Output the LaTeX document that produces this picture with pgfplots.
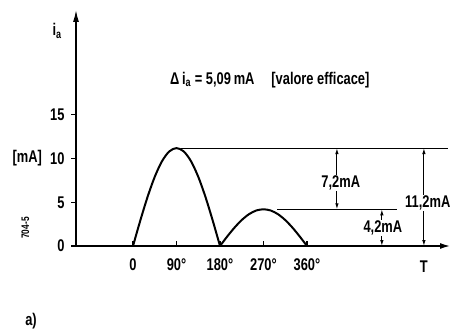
\documentclass[border=0pt]{standalone}
\usepackage{fontspec}
\setmainfont{Liberation Sans}[FakeStretch=0.76]
\usepackage{pgfplots}
\pgfplotsset{compat=1.18}
\usetikzlibrary{arrows.meta}
\begin{document}
\begin{tikzpicture}[font=\bfseries\fontsize{17}{19}\selectfont]
\begin{axis}[name=ax, scale only axis, width=374bp, height=236bp,
  xmin=-118, xmax=656, ymin=0, ymax=27,
  axis lines=left,
  axis line style={line width=1.4pt},
  x axis line style={-{Latex[length=10pt,width=6pt]}},
  y axis line style={-{Latex[length=12pt,width=6pt]}},
  xtick={0,90,180,270,360}, xticklabels={0,90°,180°,270°,360°},
  ytick={0,5,10,15}, yticklabels={0,5,10,15},
  xtick align=inside, ytick align=outside,
  major tick length=5pt,
  every tick/.style={line width=1.1pt, black},
  tick label style={font=\bfseries\fontsize{17}{19}\selectfont},
  xticklabel style={yshift=-9pt},
  yticklabel style={xshift=-3pt},
  clip=false,
]
% first half-wave (peak 11.2 mA)
\addplot[line width=2pt, smooth] coordinates {(0,0)(15,2.90)(30,5.60)(45,7.92)(60,9.70)(75,10.82)(90,11.2)(105,10.82)(120,9.70)(135,7.92)(150,5.60)(165,2.90)(180,0)};
% second half-wave (peak 4.2 mA)
\addplot[line width=2pt, smooth] coordinates {(180,0)(195,1.09)(210,2.10)(225,2.97)(240,3.64)(255,4.06)(270,4.2)(285,4.06)(300,3.64)(315,2.97)(330,2.10)(345,1.09)(360,0)};
% reference lines
\addplot[line width=1pt] coordinates {(100,11.2)(652,11.2)};
\addplot[line width=1pt] coordinates {(298,4.2)(546,4.2)};
% dimension arrows
\addplot[line width=1pt, {Latex[length=6pt,width=3.5pt]}-{Latex[length=6pt,width=3.5pt]}] coordinates {(422,4.2)(422,11.2)};
\addplot[line width=1pt, {Latex[length=6pt,width=3.5pt]}-{Latex[length=6pt,width=3.5pt]}] coordinates {(515,0)(515,4.2)};
\addplot[line width=1pt, {Latex[length=6pt,width=3.5pt]}-{Latex[length=6pt,width=3.5pt]}] coordinates {(602,0)(602,11.2)};
% labels
\node[fill=white, inner sep=1pt] at (axis cs:430,7.2) {7,2mA};
\node[fill=white, inner sep=1pt] at (axis cs:517,2.06) {4,2mA};
\node[fill=white, inner sep=1pt] at (axis cs:610,4.9) {11,2mA};
\node at (axis cs:283,19.0) {Δ\,i\textsubscript{a} = 5,09\,mA\quad [valore efficace]};
\node at (axis cs:-157,24.6) {i\textsubscript{a}};
\node at (axis cs:-219,10) {[mA]};
\node[rotate=90, font=\bfseries\fontsize{11}{12}\selectfont] at (axis cs:-223,2.06) {704-5};
\node at (axis cs:-211,-8.6) {a)};
\node at (axis cs:602,-2.4) {T};
\end{axis}
\pgfresetboundingbox
\path[use as bounding box] ([shift={(-76bp,-83bp)}]ax.south west) rectangle ([shift={(2bp,10bp)}]ax.north east);
\end{tikzpicture}
\end{document}
